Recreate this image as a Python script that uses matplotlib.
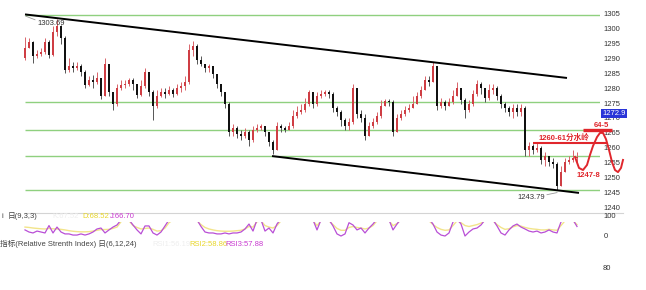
import numpy as np
import matplotlib
matplotlib.use('Agg')
import matplotlib.pyplot as plt
from matplotlib.lines import Line2D

plt.rcParams['font.family'] = ['Liberation Sans', 'Noto Sans CJK SC', 'DejaVu Sans']

W, H = 646, 290
nan = np.nan

# ---------------- data ----------------
first_open = 1290.5
closes = [
    1293.9, 1295.9, 1291.2, 1291.9, 1292.5, 1295.9, 1291.5, 1299.3, 1301.3, 1297.3,
    1286.5, 1287.8, 1287.2, 1287.8, 1285.8, 1281.4, 1283.1, 1282.4, 1283.8, 1277.7,
    1288.5, 1279.0, 1275.1, 1280.4, 1281.4, 1281.8, 1283.1, 1281.8, 1278.0, 1281.1,
    1285.8, 1279.0, 1274.4, 1277.7, 1279.0, 1278.4, 1279.7, 1278.4, 1280.4, 1281.1,
    1282.4, 1293.2, 1294.6, 1289.8, 1288.5, 1287.2, 1287.8, 1285.1, 1281.8, 1279.0,
    1275.1, 1265.6, 1267.0, 1264.9, 1264.3, 1265.6, 1262.9, 1266.3, 1267.0, 1267.6,
    1265.6, 1262.2, 1259.6, 1267.6, 1267.0, 1266.3, 1267.6, 1271.0, 1272.3, 1273.0,
    1275.1, 1279.0, 1275.1, 1277.7, 1278.4, 1279.0, 1278.4, 1273.7, 1272.3, 1269.6,
    1267.6, 1269.0, 1280.4, 1271.7, 1270.3, 1264.3, 1267.6, 1269.0, 1271.0, 1274.4,
    1276.1, 1275.7, 1265.6, 1270.3, 1271.7, 1273.0, 1273.7, 1275.1, 1277.7, 1279.7,
    1283.1, 1282.4, 1287.8, 1274.4, 1275.7, 1274.4, 1275.7, 1277.7, 1280.4, 1276.4,
    1273.0, 1275.1, 1278.4, 1281.8, 1280.4, 1277.1, 1279.7, 1280.4, 1277.7, 1275.1,
    1273.7, 1272.3, 1273.7, 1272.3, 1273.7, 1259.6, 1260.9, 1259.6, 1260.2, 1256.2,
    1257.5, 1255.5, 1254.8, 1247.4, 1252.1, 1255.5, 1256.2, 1256.9, 1256.9]
highs = [
    1297.6, 1297.3, 1296.3, 1293.2, 1293.9, 1297.3, 1296.6, 1301.3, 1303.69, 1301.6,
    1297.9, 1290.5, 1289.2, 1289.2, 1288.5, 1286.5, 1284.5, 1284.8, 1285.8, 1283.8,
    1290.5, 1288.5, 1279.0, 1281.8, 1283.1, 1283.1, 1283.8, 1283.8, 1281.8, 1283.1,
    1287.2, 1285.8, 1279.7, 1279.7, 1280.4, 1280.4, 1281.1, 1280.4, 1281.8, 1282.4,
    1284.5, 1295.2, 1296.3, 1295.2, 1291.2, 1288.5, 1288.5, 1287.8, 1285.1, 1281.8,
    1279.0, 1275.7, 1268.3, 1267.6, 1266.3, 1267.0, 1266.3, 1267.6, 1268.3, 1268.3,
    1267.6, 1265.6, 1262.9, 1269.0, 1268.3, 1267.6, 1269.0, 1273.0, 1274.4, 1275.1,
    1277.1, 1279.7, 1279.0, 1279.0, 1279.7, 1279.7, 1279.7, 1279.0, 1274.4, 1273.0,
    1270.3, 1270.3, 1281.8, 1280.4, 1273.0, 1271.7, 1269.0, 1270.3, 1272.3, 1276.4,
    1276.7, 1276.7, 1276.4, 1271.7, 1273.0, 1274.4, 1275.1, 1277.7, 1279.0, 1281.1,
    1284.5, 1284.5, 1289.2, 1287.8, 1277.1, 1276.4, 1277.1, 1279.7, 1282.4, 1280.4,
    1277.1, 1276.4, 1279.7, 1283.1, 1282.4, 1280.4, 1281.8, 1281.8, 1281.1, 1278.4,
    1275.7, 1274.4, 1275.1, 1275.1, 1275.1, 1274.4, 1262.2, 1261.6, 1262.2, 1260.9,
    1258.9, 1257.5, 1256.9, 1255.5, 1254.2, 1256.9, 1257.5, 1259.6, 1258.9]
lows = [
    1289.8, 1293.9, 1288.8, 1290.5, 1291.2, 1291.9, 1290.5, 1291.2, 1297.9, 1295.2,
    1285.5, 1285.8, 1285.8, 1286.5, 1284.5, 1280.4, 1281.1, 1280.4, 1281.8, 1276.7,
    1279.0, 1277.7, 1273.0, 1274.4, 1279.7, 1280.4, 1281.1, 1279.7, 1277.1, 1277.7,
    1280.4, 1277.7, 1269.6, 1273.7, 1277.4, 1277.1, 1278.0, 1277.4, 1278.0, 1279.0,
    1279.7, 1281.8, 1291.2, 1288.5, 1287.8, 1285.8, 1285.8, 1283.8, 1280.4, 1277.7,
    1273.7, 1264.3, 1264.3, 1263.6, 1262.9, 1263.6, 1260.9, 1262.2, 1265.6, 1266.3,
    1264.3, 1260.9, 1258.2, 1259.6, 1265.6, 1265.6, 1266.3, 1267.0, 1270.3, 1271.7,
    1272.3, 1274.4, 1273.7, 1274.4, 1277.1, 1277.7, 1277.1, 1272.3, 1271.0, 1267.6,
    1266.3, 1266.3, 1268.3, 1270.3, 1269.0, 1262.9, 1264.3, 1267.0, 1268.3, 1270.3,
    1274.4, 1274.4, 1264.3, 1265.6, 1269.6, 1271.0, 1272.3, 1273.7, 1275.1, 1277.1,
    1279.7, 1281.1, 1282.4, 1273.0, 1273.7, 1273.0, 1274.4, 1275.1, 1277.7, 1275.1,
    1270.3, 1272.3, 1274.4, 1277.7, 1278.4, 1275.7, 1276.4, 1278.4, 1276.4, 1273.7,
    1272.3, 1271.0, 1270.3, 1271.0, 1271.0, 1257.5, 1257.5, 1258.2, 1258.9, 1254.8,
    1254.2, 1254.2, 1253.5, 1246.1, 1247.4, 1252.1, 1254.8, 1255.5, 1255.5]

price_ticks = [1305, 1300, 1295, 1290, 1285, 1280, 1275, 1270, 1265, 1260, 1255, 1250, 1245, 1240]
support_levels = [1305.0, 1275.7, 1266.3, 1257.5, 1246.1]
upper_channel_x = [0, 135.5]
upper_channel_y = [1305.2, 1283.8]
lower_channel_x = [61.75, 138.5]
lower_channel_y = [1257.5, 1245.1]
watershed_x = [127, 145.5]
watershed_price = 1261.9
target_x = [139.5, 146.75]
target_price = 1266.3
proj_x = [137.5, 138.5, 139.5, 140.5, 141.25, 142, 143, 143.75, 144.5, 145.25, 146, 146.75, 147.5, 148.25, 149, 149.5]
proj_y = [1257.2, 1253.5, 1252.8, 1254.5, 1257.9, 1260.9, 1263.9, 1265.3, 1265.3, 1263.2, 1259.6, 1255.5, 1252.8, 1252.1, 1253.5, 1256.2]
last_price = 1272.9
high_label = '1303.69'
low_label = '1243.79'

kdj_j = [32, 21, 16, 26, 21, 16, 55, 16, 47, 21,
         11, 11, 5, 5, 11, 5, 11, 21, 37, 42,
         16, 32, 47, 58, 85, nan, 85, 58, 32, 11,
         53, 53, 16, 5, 21, 53, 85, nan, nan, nan,
         nan, nan, nan, 85, 50, 21, 16, 16, 11, 11,
         16, 11, 16, 16, 21, 37, 63, 26, 85, 85,
         26, 42, 16, 63, 90, nan, nan, nan, nan, nan,
         nan, nan, 85, 32, 85, nan, 85, 53, 11, 0,
         11, 70, 58, 32, 42, 16, 42, 63, 90, nan,
         nan, 85, 32, 63, 90, nan, nan, nan, nan, nan,
         nan, 90, 63, 21, 5, 0, 16, 74, 90, 63,
         0, 21, 37, 42, 58, 85, nan, 85, 53, 16,
         5, 32, 53, 63, 47, 37, 26, 21, 26, 16,
         21, 32, 21, 16, 74, 90, nan, 85, 50]
kdj_d = [47, 45, 42, 40, 38, 37, 40, 38, 37, 35,
         32, 28, 25, 23, 22, 22, 23, 26, 30, 34,
         34, 35, 40, 47, 75, nan, 80, 55, 45, 37,
         40, 42, 35, 26, 28, 42, 70, 85, nan, nan,
         nan, nan, nan, 80, 60, 45, 37, 32, 28, 26,
         25, 25, 26, 28, 30, 37, 50, 47, 75, 80,
         55, 47, 42, 55, 80, nan, nan, nan, nan, nan,
         nan, nan, 80, 55, 80, nan, 80, 60, 40, 30,
         30, 45, 50, 45, 42, 37, 42, 55, 80, nan,
         nan, 80, 55, 65, 85, nan, nan, nan, nan, nan,
         nan, 80, 60, 45, 35, 30, 32, 55, 80, 70,
         55, 50, 55, 60, 68, 80, nan, 80, 60, 45,
         35, 38, 48, 55, 52, 45, 40, 37, 35, 32,
         32, 35, 32, 30, 55, 80, nan, 80, 60]

# ---------------- figure ----------------
fig = plt.figure(figsize=(W / 100, H / 100), dpi=100)
fig.patch.set_facecolor('white')


def fx(px):
    return px / W


def fy(py):
    return 1 - py / H


XL = (-0.5, 143.75)
ax = fig.add_axes([fx(23), fy(212), 577 / W, 212 / H])
ax.set_xlim(*XL)
ax.set_ylim(1238.67, 1310.05)
ax.axis('off')

n = min(len(closes), len(highs), len(lows))
closes_a = np.array(closes[:n])
opens_a = np.concatenate([[first_open], closes_a[:-1]])
highs_a = np.maximum(np.array(highs[:n]), np.maximum(opens_a, closes_a))
lows_a = np.minimum(np.array(lows[:n]), np.minimum(opens_a, closes_a))
idx = np.arange(n)

# support/resistance lines
for lv in support_levels:
    ax.plot([0, 143.75], [lv, lv], color='#8fd07f', lw=1.0, zorder=1, solid_capstyle='butt')

up_col = '#cf3e44'
dn_col = '#111111'
up = closes_a >= opens_a
cols = np.where(up, up_col, dn_col)
wick_cols = np.where(up, '#d8646a', '#555555')
ax.vlines(idx, lows_a, highs_a, colors=wick_cols, lw=0.7, zorder=2)
heights = closes_a - opens_a
heights = np.where(np.abs(heights) < 0.3, 0.3, heights)
ax.bar(idx, heights, bottom=opens_a, width=0.55, color=cols, lw=0, zorder=3)

# channel
ax.plot(upper_channel_x, upper_channel_y, color='black', lw=1.4, zorder=4, solid_capstyle='butt')
ax.plot(lower_channel_x, lower_channel_y, color='black', lw=1.4, zorder=4, solid_capstyle='butt')

# high / low labels
ax.plot([0.2, 2.5], [1304.6, 1303.4], color='#999999', lw=0.6, zorder=4)
ax.text(3.0, 1302.0, high_label, fontsize=5.5, color='#333333', va='center', ha='left', zorder=5)
ax.plot([130.5, 133.0], [1244.5, 1245.2], color='#999999', lw=0.6, zorder=4)
ax.text(123.0, 1243.6, low_label, fontsize=5.5, color='#333333', va='center', ha='left', zorder=5)

# red annotations
red = '#e0262c'
ax.plot(watershed_x, [watershed_price] * 2, color=red, lw=1.5, zorder=5, clip_on=False, solid_capstyle='butt')
ax.plot(target_x, [target_price] * 2, color=red, lw=2.4, zorder=5, clip_on=False, solid_capstyle='butt')
ax.plot(proj_x, proj_y, color=red, lw=1.4, zorder=6, clip_on=False, solid_joinstyle='round')
ax.text(128.3, watershed_price + 1.6, '1260-61分水岭', fontsize=5.5, color=red, fontweight='bold',
        va='center', ha='left', zorder=6, clip_on=False)
ax.text(142.3, target_price + 1.6, '64-5', fontsize=5.5, color=red, fontweight='bold',
        va='center', ha='left', zorder=6, clip_on=False)
ax.text(138.0, 1250.8, '1247-8', fontsize=5.5, color=red, fontweight='bold',
        va='center', ha='left', zorder=6, clip_on=False)

# right price labels
for t in price_ticks:
    ax.text(144.5, t, str(t), fontsize=5.5, color='#333333', va='center', ha='left', clip_on=False)
ax.annotate(f'{last_price:.1f}', xy=(144.35, last_price), xytext=(0, -2.3), textcoords='offset points',
            fontsize=5.5, color='white', va='center', ha='left', annotation_clip=False, zorder=10,
            bbox=dict(boxstyle='square,pad=0.15', fc='#2a35d8', ec='none'))

# separator
fig.add_artist(Line2D([fx(25), fx(623)], [fy(212.5)] * 2, color='#d4d4d4', lw=0.8))

# KDJ panel
axk = fig.add_axes([fx(23), fy(238), 577 / W, 16 / H])
axk.set_xlim(*XL)
axk.set_ylim(-10.5, 73.7)
axk.axis('off')
axk.plot(idx, kdj_d[:n], color='#f2e48a', lw=1.0)
axk.plot(idx, kdj_j[:n], color='#b94fd6', lw=0.9)

tfs = 5.5
fig.text(fx(2), fy(216.5), 'i', fontsize=tfs, color='#444444', va='center')
fig.text(fx(8), fy(216.5), '日(9,3,3)', fontsize=tfs, color='#444444', va='center')
fig.text(fx(52), fy(216.5), 'K:67.52', fontsize=tfs, color='#eeeeee', va='center')
fig.text(fx(82), fy(216.5), 'D:68.52', fontsize=tfs, color='#e8d62a', va='center')
fig.text(fx(110), fy(216.5), 'J:66.70', fontsize=tfs, color='#c83ad0', va='center')
fig.text(fx(603), fy(217), '100', fontsize=tfs, color='#333333', va='center')
fig.text(fx(604), fy(236), '0', fontsize=tfs, color='#333333', va='center')

# RSI panel header
fig.text(fx(0.5), fy(244), '指标(Relative Strenth Index) 日(6,12,24)', fontsize=tfs, color='#444444', va='center')
fig.text(fx(152), fy(244), 'RSI1:56.19', fontsize=tfs, color='#eeeeee', va='center')
fig.text(fx(189), fy(244), 'RSI2:58.86', fontsize=tfs, color='#e8d62a', va='center')
fig.text(fx(225), fy(244), 'RSI3:57.88', fontsize=tfs, color='#c83ad0', va='center')
fig.text(fx(603), fy(268), '80', fontsize=tfs, color='#333333', va='center')

fig.savefig('out.png', dpi=100, facecolor='white')
